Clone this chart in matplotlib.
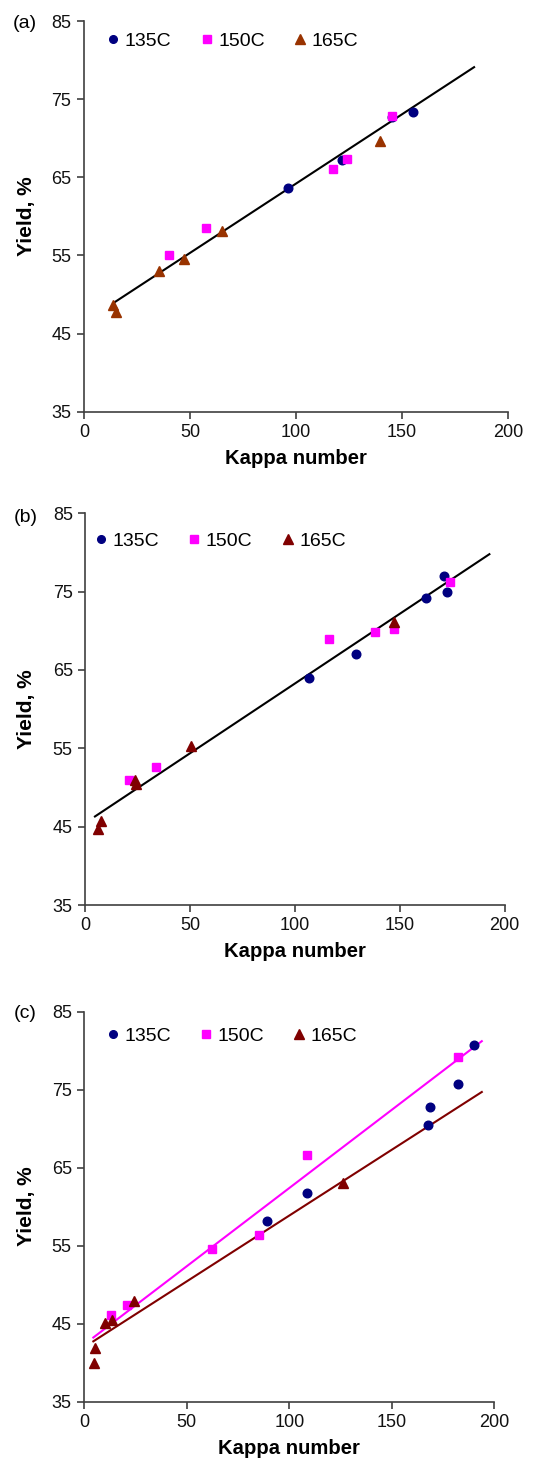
import numpy as np
import matplotlib
matplotlib.use("Agg")
import matplotlib.pyplot as plt
from matplotlib.lines import Line2D

plt.rcParams['font.family'] = ['Liberation Sans', 'DejaVu Sans']

# ---------------- data ----------------
series_labels = ["135C", "150C", "165C"]

# panel (a)
a_135_x = [96.4, 121.9, 145.1, 155.3]
a_135_y = [63.6, 67.2, 72.7, 73.3]
a_150_x = [40.1, 57.5, 117.5, 123.9, 145.1]
a_150_y = [55.0, 58.5, 66.1, 67.3, 72.9]
a_165_x = [13.8, 14.9, 35.2, 47.0, 65.1, 139.6]
a_165_y = [48.6, 47.8, 53.0, 54.5, 58.1, 69.6]
a_fit = [0.1774, 46.45]        # slope, intercept
a_fit_range = [13.8, 184.0]

# panel (b)
b_135_x = [106.7, 128.9, 162.3, 170.9, 172.5]
b_135_y = [64.0, 67.1, 74.2, 77.0, 75.0]
b_150_x = [21.0, 33.7, 116.4, 138.3, 147.4, 173.9]
b_150_y = [51.0, 52.65, 68.9, 69.9, 70.2, 76.2]
b_165_x = [6.2, 7.6, 23.7, 24.2, 50.3, 147.1]
b_165_y = [44.7, 45.7, 51.0, 50.5, 55.3, 71.1]
b_fit = [0.178, 45.48]
b_fit_range = [4.6, 192.7]

# panel (c)
c_135_x = [89.0, 108.6, 167.5, 168.8, 182.4, 190.2]
c_135_y = [58.1, 61.7, 70.4, 72.8, 75.7, 80.7]
c_150_x = [12.9, 20.8, 62.4, 85.2, 108.5, 182.4]
c_150_y = [46.1, 47.4, 54.6, 56.3, 66.6, 79.2]
c_165_x = [4.7, 5.4, 10.1, 13.4, 24.2, 126.3]
c_165_y = [40.0, 41.9, 45.1, 45.4, 47.9, 63.0]
c_fit_150 = [0.2005, 42.32]
c_fit_165 = [0.1687, 41.97]
c_fit_range = [4.4, 193.9]

x_ticks = [0, 50, 100, 150, 200]
y_ticks = [35, 45, 55, 65, 75, 85]
panel_tags = ["(a)", "(b)", "(c)"]

# ---------------- styles ----------------
NAVY = "#000080"
MAG = "#FF00FF"
BROWN = "#993300"
DRED = "#800000"
SPINE = "#404040"

W, H = 544, 1461
fig = plt.figure(figsize=(W / 100, H / 100), dpi=100)

def px_rect(x0, x1, ytop, ybot):
    return [x0 / W, 1 - ybot / H, (x1 - x0) / W, (ybot - ytop) / H]

axes_px = [
    (84.0, 508.0, 21.0, 411.7),
    (85.3, 504.7, 513.3, 905.0),
    (84.3, 494.3, 1011.5, 1401.5),
]

panels = [
    dict(s135=(a_135_x, a_135_y), s150=(a_150_x, a_150_y), s165=(a_165_x, a_165_y),
         c165=BROWN, fits=[(a_fit, a_fit_range, "black")], leg=(113, 41), tag=(12.7, 24)),
    dict(s135=(b_135_x, b_135_y), s150=(b_150_x, b_150_y), s165=(b_165_x, b_165_y),
         c165=DRED, fits=[(b_fit, b_fit_range, "black")], leg=(100.7, 541), tag=(14, 517)),
    dict(s135=(c_135_x, c_135_y), s150=(c_150_x, c_150_y), s165=(c_165_x, c_165_y),
         c165=DRED, fits=[(c_fit_150, c_fit_range, MAG), (c_fit_165, c_fit_range, DRED)],
         leg=(112.3, 1036), tag=(13.3, 1014)),
]

for i, (apx, p) in enumerate(zip(axes_px, panels)):
    x0, x1, yt, yb = apx
    wpx, hpx = x1 - x0, yb - yt
    ax = fig.add_axes(px_rect(*apx))
    for coef, rng, col in p["fits"]:
        xs = np.array(rng)
        ax.plot(xs, coef[0] * xs + coef[1], color=col, lw=1.5, zorder=2)
    ax.plot(*p["s135"], linestyle="none", marker="o", ms=6.2, color=NAVY, mec=NAVY, zorder=3)
    ax.plot(*p["s150"], linestyle="none", marker="s", ms=6.0, color=MAG, mec=MAG, zorder=3)
    ax.plot(*p["s165"], linestyle="none", marker="^", ms=7.0, color=p["c165"], mec=p["c165"], zorder=3)

    ax.set_xlim(0, 200)
    ax.set_ylim(35, 85)
    ax.set_xticks(x_ticks)
    ax.set_yticks(y_ticks)
    for side in ("top", "right"):
        ax.spines[side].set_visible(False)
    for side in ("left", "bottom"):
        ax.spines[side].set_color(SPINE)
        ax.spines[side].set_linewidth(1.2)
    ax.tick_params(axis="both", direction="out", length=5, width=1.2, color=SPINE,
                   labelsize=13, labelcolor="#111111")
    ax.tick_params(axis="x", pad=4)
    ax.tick_params(axis="y", pad=4)
    ax.set_xlabel("Kappa number", fontsize=14.6, fontweight="bold")
    ax.xaxis.set_label_coords(0.5, -(46 + 10) / hpx)
    ax.xaxis.label.set_va("bottom")
    ax.set_ylabel("Yield, %", fontsize=15, fontweight="bold")
    ax.yaxis.set_label_coords(-(x0 - 36) / wpx, 0.5)

    handles = [
        Line2D([], [], linestyle="none", marker="o", ms=5.5, color=NAVY),
        Line2D([], [], linestyle="none", marker="s", ms=5.5, color=MAG),
        Line2D([], [], linestyle="none", marker="^", ms=6.5, color=p["c165"]),
    ]
    lx, ly = p["leg"]
    ax.legend(handles, series_labels, loc="center left",
              bbox_to_anchor=((lx - 5.5 - x0) / wpx, (yb - ly) / hpx),
              ncol=3, frameon=False, fontsize=14, handlelength=0.6,
              handletextpad=0.3, columnspacing=1.5, borderaxespad=0, borderpad=0)

    tx, ty = p["tag"]
    ax.text((tx - x0) / wpx, (yb - ty) / hpx, panel_tags[i], transform=ax.transAxes,
            fontsize=14, ha="left", va="center")

fig.savefig("out.png", dpi=100)
